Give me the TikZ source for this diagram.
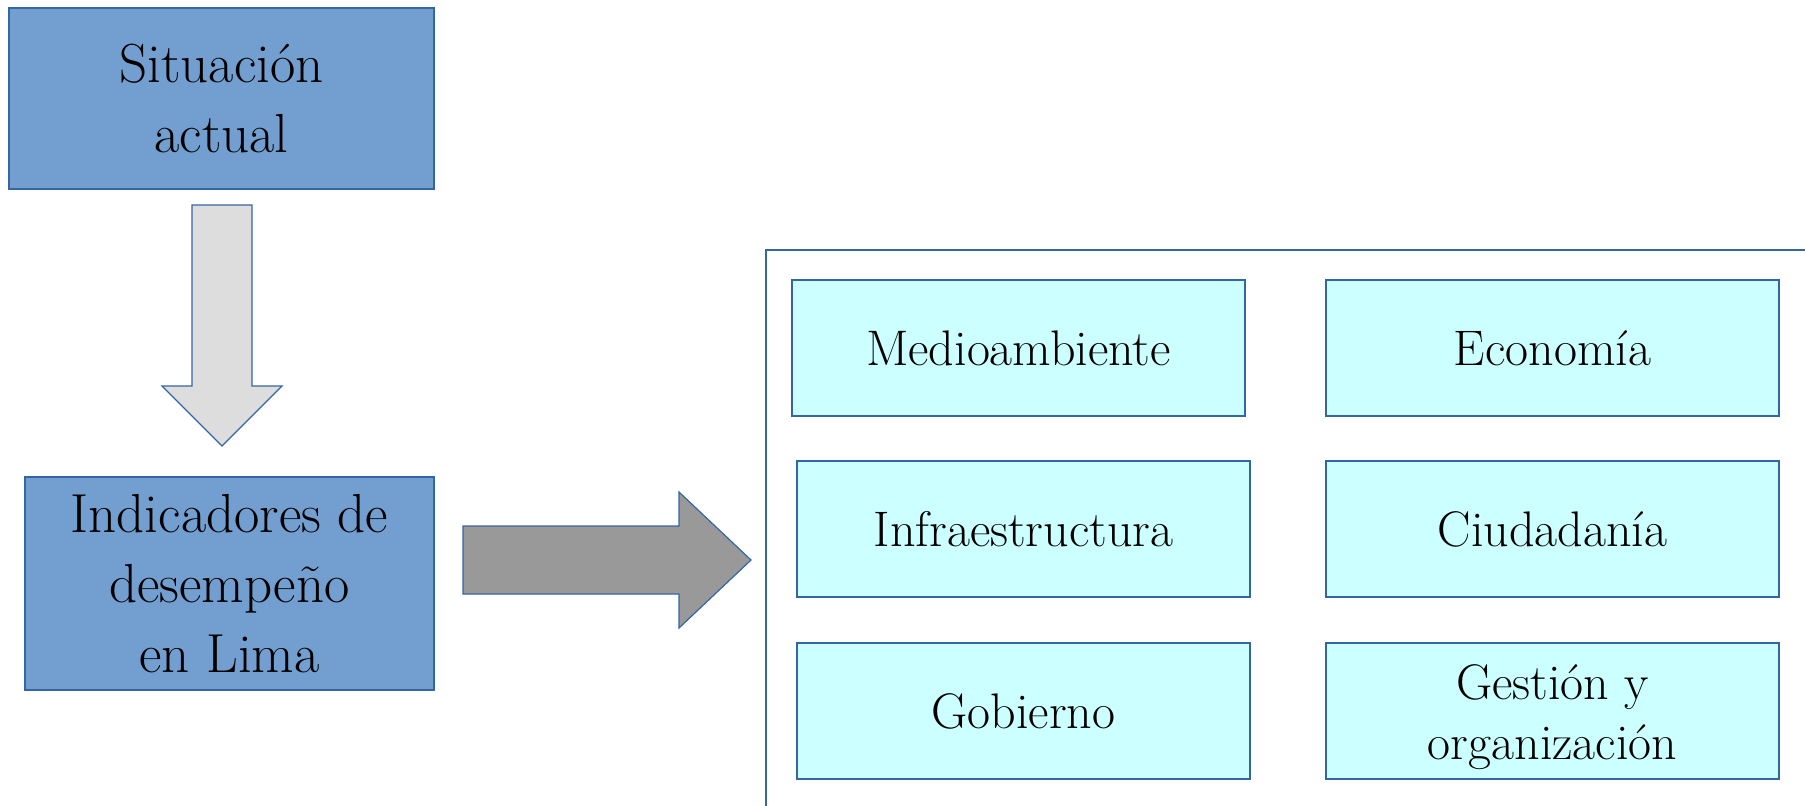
\documentclass[tikz,border=0pt]{standalone}
\usepackage{fontspec}
\definecolor{bluefill}{HTML}{729FCF}
\definecolor{blueline}{HTML}{3465A4}
\definecolor{cyanfill}{HTML}{CCFFFF}
\definecolor{lightarrow}{HTML}{DDDDDD}
\definecolor{darkarrow}{HTML}{999999}
\newcommand{\lowerline}[1]{\raisebox{-3pt}[\height][\depth]{#1}}
\begin{document}
\begin{tikzpicture}[x=0.5pt,y=-0.5pt,
  bigbox/.style={draw=blueline, fill=bluefill, line width=0.6pt, align=center, inner sep=0pt,
    font=\fontsize{27.5pt}{35pt}\selectfont},
  smallbox/.style={draw=blueline, fill=cyanfill, line width=0.6pt, align=center, inner sep=0pt,
    minimum height=68pt, font=\fontsize{25pt}{30pt}\selectfont},
  blockarrow/.style={draw=blueline, line width=0.6pt, line join=miter},
  frame/.style={draw=blueline, line width=0.6pt}]
\useasboundingbox (0,0) rectangle (1805,805);
% left column boxes
\node[bigbox, minimum width=212.5pt, minimum height=90.5pt] (sit) at (221.5,98.5) {Situación\\actual};
\node[bigbox, minimum width=204.5pt, minimum height=106.5pt] (ind) at (229.5,583.5) {Indicadores de\\desempeño \\ en Lima};
% down arrow
\draw[blockarrow, fill=lightarrow] (192,205) -- (252,205) -- (252,386) -- (282,386) -- (222,446) -- (162,386) -- (192,386) -- cycle;
% right arrow
\draw[blockarrow, fill=darkarrow] (463,526) -- (679,526) -- (679,492) -- (751,560) -- (679,628) -- (679,594) -- (463,594) -- cycle;
% container
\coordinate (ctr) at (1815,250);
\coordinate (ccorner) at (766,250);
\coordinate (cbl) at (766,815);
\draw[frame] (ctr) -- (ccorner) -- (cbl);
% category boxes
\node[smallbox, minimum width=226.5pt] (med) at (1018.5,348) {Medioambiente};
\node[smallbox, minimum width=226.5pt] (eco) at (1552.5,348) {Economía};
\node[smallbox, minimum width=226.5pt] (inf) at (1023.5,529) {Infraestructura};
\node[smallbox, minimum width=226.5pt] (ciu) at (1552.5,529) {Ciudadanía};
\node[smallbox, minimum width=226.5pt] (gob) at (1023.5,711) {Gobierno};
\node[smallbox, minimum width=226.5pt] (ges) at (1552.5,711) {\lowerline{Gestión y}\\\lowerline{organización}};
\end{tikzpicture}
\end{document}
